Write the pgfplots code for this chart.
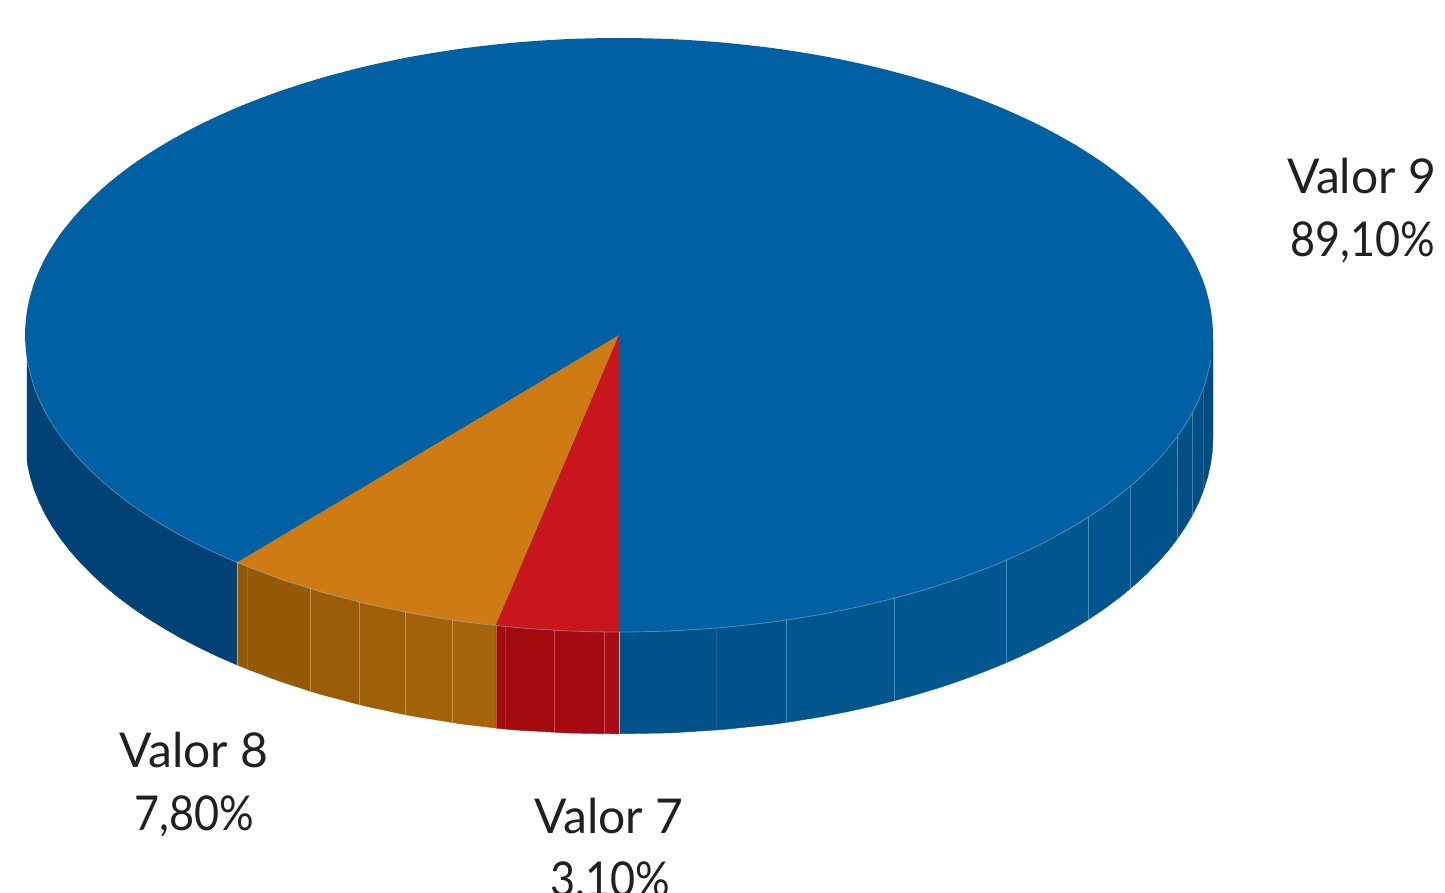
\documentclass[border=0pt]{standalone}
\usepackage{fontspec}
\setmainfont{Lato}
\usepackage{pgfplots}
\pgfplotsset{compat=1.18}
\definecolor{tb}{HTML}{0060A4}
\definecolor{to}{HTML}{CF7B13}
\definecolor{tr}{HTML}{C8161C}
\definecolor{txt}{HTML}{231F20}
\definecolor{ca}{HTML}{004275}
\definecolor{cb}{HTML}{945806}
\definecolor{cc}{HTML}{965905}
\definecolor{cd}{HTML}{9A5C06}
\definecolor{ce}{HTML}{9E5F07}
\definecolor{cf}{HTML}{A26208}
\definecolor{cg}{HTML}{A5640A}
\definecolor{ch}{HTML}{A10A0F}
\definecolor{ci}{HTML}{A30A10}
\definecolor{cj}{HTML}{A50B11}
\definecolor{ck}{HTML}{A90C14}
\definecolor{cl}{HTML}{005288}
\definecolor{cm}{HTML}{00538A}
\definecolor{cn}{HTML}{00558D}
\definecolor{co}{HTML}{00578F}
\definecolor{cp}{HTML}{00568E}
\definecolor{cq}{HTML}{00558C}
\definecolor{cr}{HTML}{00538A}
\definecolor{cs}{HTML}{005087}
\definecolor{ct}{HTML}{004E83}
\definecolor{cu}{HTML}{004B7F}
\tikzset{
  facet/.style={fill=#1,draw=#1,line width=.4pt},
  seam/.style={white,opacity=.3,line width=.8pt},
  lab/.style={anchor=base,text=txt,font=\fontsize{48}{48}\selectfont}
}
\newcommand{\nar}[1]{\scalebox{.9}[1]{#1}}
\begin{document}
\begin{tikzpicture}
\useasboundingbox (0,0) rectangle (1445pt,893pt);
\clip (0,0) rectangle (1445pt,893pt);
\begin{axis}[at={(0,0)},anchor=south west,scale only axis,width=1445pt,height=893pt,
  xmin=0,xmax=1445,ymin=0,ymax=893,y dir=reverse,hide axis,clip=false]
% side, left blue
\addplot[facet=ca] coordinates {(27,345)(237,552)(237,664.9)(217.7,656.5)(199,647.5)(181.1,638.2)(164,628.4)(147.7,618.3)(132.4,607.9)(118,597.1)(104.6,586)(92.1,574.6)(80.7,563)(70.2,551.2)(60.8,539.1)(52.5,526.8)(45.2,514.4)(39.1,501.8)(34,489.1)(30.1,476.3)(27.3,463.4)(27,458)(27,345)};
% side, orange
\addplot[facet=cb] coordinates {(237,552)(247,556)(247,669)(237,664.9)(237,552)};
\addplot[facet=cc] coordinates {(247,556)(310,578)(310,691.1)(278.3,680.8)(247,669)(247,556)};
\addplot[facet=cd] coordinates {(310,578)(359,592)(359,704.5)(322,694.7)(310,691.1)(310,578)};
\addplot[facet=ce] coordinates {(359,592)(405,602)(405,714.6)(368,706.7)(359,704.5)(359,592)};
\addplot[facet=cf] coordinates {(405,602)(452,610)(452,722.5)(415.8,716.6)(405,714.6)(405,602)};
\addplot[facet=cg] coordinates {(452,610)(496,615)(496,728.1)(465.3,724.4)(452,722.5)(452,610)};
% side, red
\addplot[facet=ch] coordinates {(496,615)(505,616)(505,729)(496,728.1)(496,615)};
\addplot[facet=ci] coordinates {(505,616)(554,620)(554,732.2)(515.9,730)(505,729)(505,616)};
\addplot[facet=cj] coordinates {(554,620)(604,622)(604,733.7)(567.2,733)(554,732.2)(554,620)};
\addplot[facet=ck] coordinates {(604,622)(619,622)(619,733.8)(604,733.7)(604,622)};
% side, right blue
\addplot[facet=cl] coordinates {(619,622)(716,618)(716,730)(670.8,732.9)(619,733.8)(619,622)};
\addplot[facet=cm] coordinates {(716,618)(786,610)(786,722.5)(772.7,724.4)(722.1,729.6)(716,730)(716,618)};
\addplot[facet=cn] coordinates {(786,610)(894,588)(894,700.8)(870,706.7)(846.3,711.9)(822.2,716.6)(786,722.5)(786,610)};
\addplot[facet=co] coordinates {(894,588)(1006,550)(1006,662.8)(1000.8,665)(980.6,673.1)(959.7,680.8)(938.2,688)(916,694.7)(894,700.8)(894,588)};
\addplot[facet=cp] coordinates {(1006,550)(1088,507)(1088,619.8)(1074,628.4)(1056.9,638.2)(1039,647.5)(1020.3,656.5)(1006,662.8)(1006,550)};
\addplot[facet=cq] coordinates {(1088,507)(1130,476)(1130,588.9)(1120,597.1)(1105.6,607.9)(1090.3,618.3)(1088,619.8)(1088,507)};
\addplot[facet=cr] coordinates {(1130,476)(1177,427)(1177,539.3)(1167.8,551.2)(1157.3,563)(1145.9,574.6)(1133.4,586)(1130,588.9)(1130,476)};
\addplot[facet=cs] coordinates {(1177,427)(1192,403)(1192,515.8)(1185.5,526.8)(1177,539.3)(1177,427)};
\addplot[facet=ct] coordinates {(1192,403)(1203,379)(1203,491.7)(1198.9,501.8)(1192.8,514.4)(1192,515.8)(1192,403)};
\addplot[facet=cu] coordinates {(1203,379)(1213,340)(1213,437.5)(1212.4,450.5)(1210.7,463.4)(1207.9,476.3)(1203,491.7)(1203,379)};
% top
\addplot[fill=tb,draw=none,smooth] coordinates {(619,632)(670.8,630.9)(722.1,627.5)(772.7,621.9)(822.2,614.1)(870,604.2)(916,592.2)(959.7,578.3)(1000.8,562.5)(1039,545)(1074,525.9)(1105.6,505.4)(1133.4,483.5)(1157.3,460.5)(1177.2,436.6)(1192.8,411.9)(1204,386.6)(1210.7,360.9)(1213,335)
(1210.7,309.1)(1204,283.4)(1192.8,258.1)(1177.2,233.4)(1157.3,209.5)(1133.4,186.5)(1105.6,164.6)(1074,144.1)(1039,125)(1000.8,107.5)(959.7,91.7)(916,77.8)(870,65.8)(822.2,55.9)(772.7,48.1)(722.1,42.5)(670.8,39.1)(619,38)
(567.2,39.1)(515.9,42.5)(465.3,48.1)(415.8,55.9)(368,65.8)(322,77.8)(278.3,91.7)(237.2,107.5)(199,125)(164,144.1)(132.4,164.6)(104.6,186.5)(80.7,209.5)(60.8,233.4)(45.2,258.1)(34,283.4)(27.3,309.1)(25,335)
(27.3,360.9)(34,386.6)(45.2,411.9)(60.8,436.6)(80.7,460.5)(104.6,483.5)(132.4,505.4)(164,525.9)(199,545)(237,562.4)(278.3,578.3)(322,592.2)(368,604.2)(415.8,614.1)(465.3,621.9)(515.9,627.5)(567.2,630.9)(619,632)};
\addplot[fill=to,draw=none] coordinates {(619,335)(237,562.4)(278.3,578.3)(322,592.2)(368,604.2)(415.8,614.1)(465.3,621.9)(496,625.2)(619,335)};
\addplot[fill=tr,draw=none] coordinates {(619,335)(496,625.2)(515.9,627.5)(567.2,630.9)(619,632)(619,335)};
% light seams
\addplot[seam,smooth] coordinates {(27.3,360.9)(34,386.6)(45.2,411.9)(60.8,436.6)(80.7,460.5)(104.6,483.5)(132.4,505.4)(164,525.9)(199,545)(237,562.4)(278.3,578.3)(322,592.2)(368,604.2)(415.8,614.1)(465.3,621.9)(515.9,627.5)(567.2,630.9)(619,632)(670.8,630.9)(722.1,627.5)(772.7,621.9)(822.2,614.1)(870,604.2)(916,592.2)(959.7,578.3)(1000.8,562.5)(1039,545)(1074,525.9)(1105.6,505.4)(1133.4,483.5)(1157.3,460.5)(1177.2,436.6)(1192.8,411.9)(1204,386.6)(1210.7,360.9)};
\addplot[seam,opacity=.45] coordinates {(237,562.4)(237,664.9)};
\addplot[seam,opacity=.12] coordinates {(247,566.5)(247,669)};
\addplot[seam] coordinates {(310,588.6)(310,691.1)};
\addplot[seam] coordinates {(359,602)(359,704.5)};
\addplot[seam] coordinates {(405,612.1)(405,714.6)};
\addplot[seam] coordinates {(452,620)(452,722.5)};
\addplot[seam] coordinates {(496,625.2)(496,728.1)};
\addplot[seam,opacity=.15] coordinates {(505,626.5)(505,729)};
\addplot[seam] coordinates {(554,630.2)(554,732.2)};
\addplot[seam] coordinates {(604,631.9)(604,733.7)};
\addplot[seam,opacity=.6] coordinates {(619,632)(619,733.8)};
\addplot[seam,opacity=.08] coordinates {(716,628)(716,730)};
\addplot[seam] coordinates {(786,620)(786,722.5)};
\addplot[seam] coordinates {(894,598.3)(894,700.8)};
\addplot[seam] coordinates {(1006,560.3)(1006,662.8)};
\addplot[seam] coordinates {(1088,517.3)(1088,619.8)};
\addplot[seam] coordinates {(1130,486.4)(1130,588.9)};
\addplot[seam] coordinates {(1177,436.8)(1177,539.3)};
\addplot[seam] coordinates {(1192,413.3)(1192,515.8)};
\addplot[seam,opacity=.15] coordinates {(1203,389.2)(1203,491.7)};
% labels
\node[lab] at (axis cs:1361.5,194) {Valor 9};
\node[lab] at (axis cs:1362.5,257) {\nar{89,10\%}};
\node[lab] at (axis cs:194,767) {Valor 8};
\node[lab] at (axis cs:194,830) {\nar{7,80\%}};
\node[lab] at (axis cs:609,833) {Valor 7};
\node[lab] at (axis cs:610,896) {\nar{3,10\%}};
\end{axis}
\end{tikzpicture}
\end{document}
